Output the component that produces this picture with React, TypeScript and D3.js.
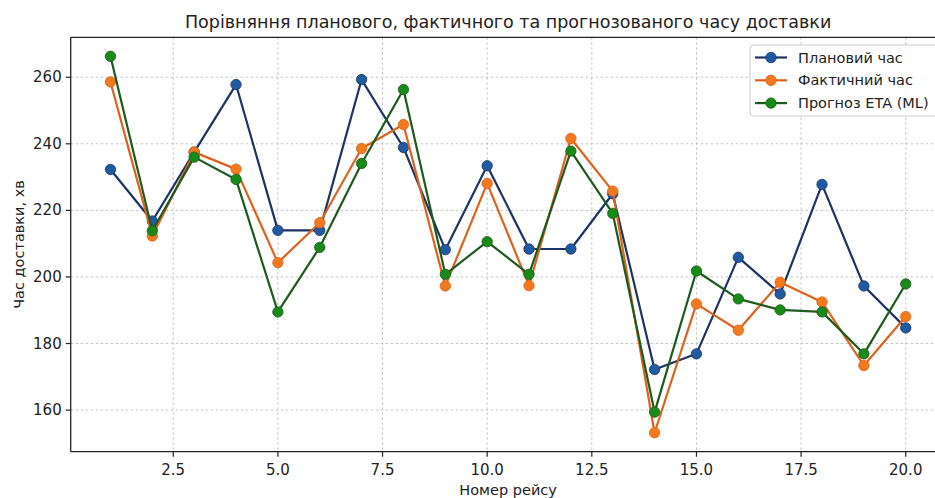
import React from "react";
import * as d3 from "d3";

const trips = [1, 2, 3, 4, 5, 6, 7, 8, 9, 10, 11, 12, 13, 14, 15, 16, 17, 18, 19, 20];
const planned = [232.3, 216.8, 237.5, 257.8, 214, 214, 259.3, 238.9, 208.2, 233.4, 208.4, 208.4, 225, 172.2, 176.9, 205.9, 194.9, 227.8, 197.3, 184.7];
const actual = [258.6, 212.3, 237.5, 232.4, 204.3, 216.3, 238.6, 245.8, 197.3, 228.1, 197.4, 241.6, 225.8, 153.2, 191.9, 184, 198.4, 192.5, 173.4, 188.1];
const forecast = [266.3, 213.9, 236, 229.3, 189.5, 208.9, 234.1, 256.3, 200.8, 210.6, 200.8, 237.8, 219.1, 159.4, 201.8, 193.4, 190.1, 189.5, 176.9, 197.9];

const seriesNames = ["Плановий час", "Фактичний час", "Прогноз ETA (ML)"];
const lineColors = ["#1c3363", "#de621c", "#1d5a1d"];
const markerColors = ["#1f5aa3", "#f27a1c", "#178a17"];
const xTicks = [2.5, 5, 7.5, 10, 12.5, 15, 17.5, 20];
const yTicks = [160, 180, 200, 220, 240, 260];
const title = "Порівняння планового, фактичного та прогнозованого часу доставки";
const xLabel = "Номер рейсу";
const yLabel = "Час доставки, хв";

const W = 935;
const H = 498;
const left = 70.7;
const right = 945.5;
const top = 37.3;
const bottom = 451.7;
const FONT = "DejaVu Sans, sans-serif";

export default function App() {
  const x = d3.scaleLinear().domain([0.05, 20.95]).range([left, right]);
  const y = d3.scaleLinear().domain([147.5, 272]).range([bottom, top]);
  const all = [planned, actual, forecast];
  const line = d3
    .line<[number, number]>()
    .x((d) => x(d[0]))
    .y((d) => y(d[1]));

  return (
    <>
      <style>{`body{margin:0}`}</style>
      <svg width={W} height={H} style={{ display: "block", background: "#fff" }} fontFamily={FONT}>
        <rect x={0} y={0} width={W} height={H} fill="#fff" />
        {/* grid */}
        {xTicks.map((t) => (
          <line key={"gx" + t} x1={x(t)} x2={x(t)} y1={top} y2={bottom} stroke="#c4c4c4" strokeWidth={1} strokeDasharray="2.5,2.5" />
        ))}
        {yTicks.map((t) => (
          <line key={"gy" + t} x1={left} x2={right} y1={y(t)} y2={y(t)} stroke="#c4c4c4" strokeWidth={1} strokeDasharray="2.5,2.5" />
        ))}
        {/* series */}
        {all.map((vals, i) => {
          const pts = trips.map((t, j) => [t, vals[j]] as [number, number]);
          return (
            <g key={"s" + i}>
              <path d={line(pts) || ""} fill="none" stroke={lineColors[i]} strokeWidth={2.2} strokeLinejoin="round" />
              {pts.map((p, j) => (
                <circle key={j} cx={x(p[0])} cy={y(p[1])} r={5.2} fill={markerColors[i]} stroke={lineColors[i]} strokeWidth={0.8} />
              ))}
            </g>
          );
        })}
        {/* spines */}
        <line x1={left} x2={left} y1={top} y2={bottom} stroke="#222" strokeWidth={1.3} />
        <line x1={left} x2={right} y1={bottom} y2={bottom} stroke="#222" strokeWidth={1.3} />
        <line x1={left} x2={right} y1={top} y2={top} stroke="#222" strokeWidth={1.3} />
        {/* x ticks */}
        {xTicks.map((t) => (
          <g key={"tx" + t}>
            <line x1={x(t)} x2={x(t)} y1={bottom} y2={bottom + 5} stroke="#222" strokeWidth={1.2} />
            <text x={x(t)} y={bottom + 23} textAnchor="middle" fontSize={15} fill="#222">
              {d3.format(".1f")(t)}
            </text>
          </g>
        ))}
        {/* y ticks */}
        {yTicks.map((t) => (
          <g key={"ty" + t}>
            <line x1={left - 5} x2={left} y1={y(t)} y2={y(t)} stroke="#222" strokeWidth={1.2} />
            <text x={left - 9} y={y(t) + 5} textAnchor="end" fontSize={15} fill="#222">
              {t}
            </text>
          </g>
        ))}
        {/* labels */}
        <text x={(left + right) / 2} y={28} textAnchor="middle" fontSize={17.5} fill="#222">
          {title}
        </text>
        <text x={(left + right) / 2} y={495} textAnchor="middle" fontSize={14.5} fill="#222">
          {xLabel}
        </text>
        <text transform={`translate(24,${(top + bottom) / 2}) rotate(-90)`} textAnchor="middle" fontSize={14.5} fill="#222">
          {yLabel}
        </text>
        {/* legend */}
        <rect x={750} y={45} width={188} height={71} rx={4} fill="#fff" fillOpacity={0.85} stroke="#cccccc" strokeWidth={1} />
        {seriesNames.map((n, i) => {
          const cy = 57.5 + i * 22.8;
          return (
            <g key={"l" + i}>
              <line x1={755} x2={787} y1={cy} y2={cy} stroke={lineColors[i]} strokeWidth={2.2} />
              <circle cx={771} cy={cy} r={5.2} fill={markerColors[i]} stroke={lineColors[i]} strokeWidth={0.8} />
              <text x={798} y={cy + 5} fontSize={14.5} fill="#222">
                {n}
              </text>
            </g>
          );
        })}
      </svg>
    </>
  );
}
